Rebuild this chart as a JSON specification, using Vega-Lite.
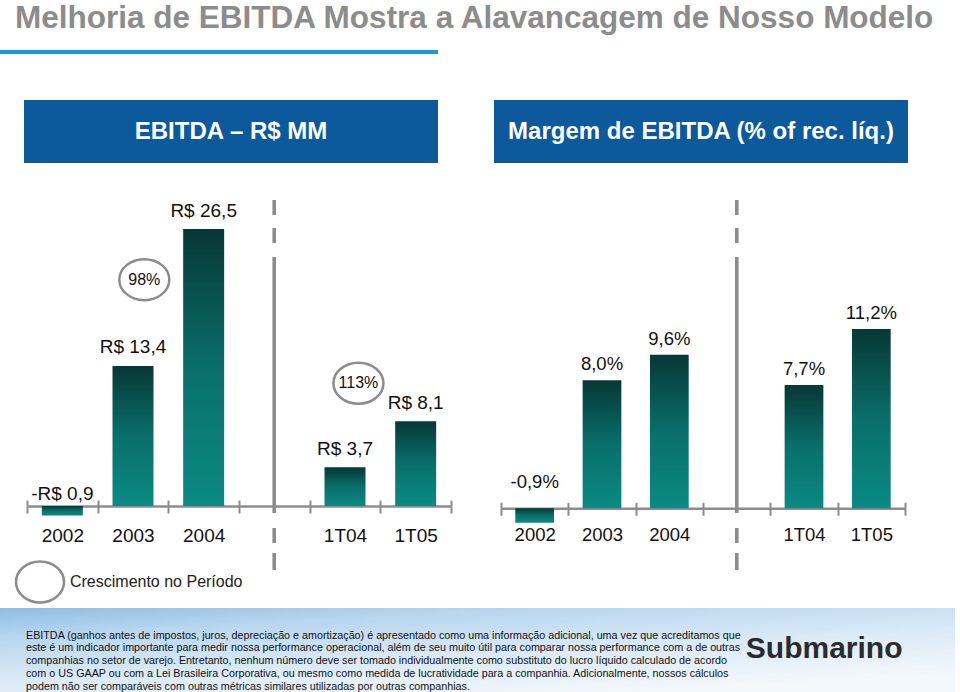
{
  "$schema": "https://vega.github.io/schema/vega-lite/v6.json",
  "padding": {"top": 2, "left": 0, "right": 0, "bottom": 0},
  "background": "white",
  "config": {"view": {"stroke": null}, "font": "Liberation Sans"},
  "datasets": {
    "ebitda": [
      {"periodo": "2002", "valor": -0.9, "rotulo": "-R$ 0,9"},
      {"periodo": "2003", "valor": 13.4, "rotulo": "R$ 13,4"},
      {"periodo": "2004", "valor": 26.5, "rotulo": "R$ 26,5"},
      {"periodo": "1T04", "valor": 3.7, "rotulo": "R$ 3,7"},
      {"periodo": "1T05", "valor": 8.1, "rotulo": "R$ 8,1"}
    ],
    "margem": [
      {"periodo": "2002", "valor": -0.9, "rotulo": "-0,9%"},
      {"periodo": "2003", "valor": 8.0, "rotulo": "8,0%"},
      {"periodo": "2004", "valor": 9.6, "rotulo": "9,6%"},
      {"periodo": "1T04", "valor": 7.7, "rotulo": "7,7%"},
      {"periodo": "1T05", "valor": 11.2, "rotulo": "11,2%"}
    ],
    "crescimento": [
      {"periodo": "2003", "taxa": "98%"},
      {"periodo": "1T04", "taxa": "113%"}
    ],
    "nota": [
      {"linha": 1, "texto": "EBITDA (ganhos antes de impostos, juros, depreciação e amortização) é apresentado como uma informação adicional, uma vez que acreditamos que"},
      {"linha": 2, "texto": "este é um indicador importante para medir nossa performance operacional, além de seu muito útil para comparar nossa performance com a de outras"},
      {"linha": 3, "texto": "companhias no setor de varejo. Entretanto, nenhum número deve ser tomado individualmente como substituto do lucro líquido calculado de acordo"},
      {"linha": 4, "texto": "com o US GAAP ou com a Lei Brasileira Corporativa, ou mesmo como medida de lucratividade para a companhia. Adicionalmente, nossos cálculos"},
      {"linha": 5, "texto": "podem não ser comparáveis com outras métricas similares utilizadas por outras companhias."}
    ]
  },
  "spacing": 46,
  "vconcat": [
    {
      "width": 438,
      "height": 4,
      "view": {"fill": "#1a9ad8", "stroke": null},
      "title": {"text": "Melhoria de EBITDA Mostra a Alavancagem de Nosso Modelo", "anchor": "start", "frame": "group", "fontSize": 31.5, "fontWeight": "bold", "color": "#8c8c8c", "font": "Liberation Sans", "offset": -9, "dx": 15, "baseline": "alphabetic"},
      "data": {"values": []},
      "mark": {"type": "point", "opacity": 0}
    },
    {
      "spacing": 0,
      "vconcat": [
        {
          "spacing": 0,
          "hconcat": [
            {"width": 24, "height": 63, "data": {"values": []}, "mark": {"type": "point", "opacity": 0}},
            {
              "spacing": 56,
              "hconcat": [
                {"width": 414, "height": 63, "view": {"fill": "#0c599b", "stroke": null}, "data": {"values": [{"t": "EBITDA – R$ MM"}]}, "mark": {"type": "text", "fontSize": 24, "fontWeight": "bold", "color": "white", "baseline": "middle"}, "encoding": {"text": {"field": "t"}}},
                {"width": 414, "height": 63, "view": {"fill": "#0c599b", "stroke": null}, "data": {"values": [{"t": "Margem de EBITDA (% of rec. líq.)"}]}, "mark": {"type": "text", "fontSize": 24, "fontWeight": "bold", "color": "white", "baseline": "middle"}, "encoding": {"text": {"field": "t"}}}
              ]
            }
          ]
        },
        {
          "spacing": 0,
          "hconcat": [
            {"width": 11, "height": 441, "data": {"values": []}, "mark": {"type": "point", "opacity": 0}},
            {
              "spacing": 48,
              "hconcat": [
                {
                  "width": 424,
                  "height": 441,
                  "data": {"name": "ebitda"},
                  "resolve": {"axis": {"x": "independent"}},
                  "layer": [
                    {
                      "mark": {"type": "bar", "width": {"band": 0.58}, "fill": {"gradient": "linear", "x1": 0, "y1": 0, "x2": 0, "y2": 1, "stops": [{"offset": 0, "color": "#073836"}, {"offset": 0.5, "color": "#0a6f6a"}, {"offset": 1, "color": "#0b8a84"}]}},
                      "encoding": {
                        "x": {"field": "periodo", "type": "nominal", "scale": {"type": "band", "domain": ["2002", "2003", "2004", " ", "1T04", "1T05"], "paddingInner": 0, "paddingOuter": 0}, "axis": {"orient": "bottom", "offset": -98, "title": null, "grid": false, "labelAngle": 0, "domainColor": "#8c8c8c", "domainWidth": 2.5, "tickColor": "#8c8c8c", "tickWidth": 2, "tickSize": 7, "tickBand": "extent", "labelFontSize": 19, "labelColor": "#111111", "labelPadding": 13.5, "labelFont": "Liberation Sans"}},
                        "y": {"field": "valor", "type": "quantitative", "scale": {"domain": [-9.378, 32.82], "nice": false, "zero": false}, "axis": null}
                      }
                    },
                    {
                      "transform": [{"filter": "datum.valor >= 0"}],
                      "mark": {"type": "text", "baseline": "alphabetic", "dy": -12.5, "fontSize": 19, "color": "#111111"},
                      "encoding": {
                        "x": {"field": "periodo", "type": "nominal", "scale": {"type": "band", "domain": ["2002", "2003", "2004", " ", "1T04", "1T05"], "paddingInner": 0, "paddingOuter": 0}, "axis": {"orient": "top", "offset": -343, "title": null, "grid": false, "domain": false, "labels": false, "tickColor": "#8c8c8c", "tickWidth": 2, "tickSize": 6, "tickBand": "extent"}},
                        "y": {"field": "valor", "type": "quantitative", "scale": {"domain": [-9.378, 32.82], "nice": false, "zero": false}, "axis": null},
                        "text": {"field": "rotulo"}
                      }
                    },
                    {
                      "transform": [{"filter": "datum.valor < 0"}],
                      "mark": {"type": "text", "baseline": "alphabetic", "dy": -6, "fontSize": 19, "color": "#111111"},
                      "encoding": {
                        "x": {"field": "periodo", "type": "nominal", "scale": {"type": "band", "domain": ["2002", "2003", "2004", " ", "1T04", "1T05"], "paddingInner": 0, "paddingOuter": 0}, "axis": null},
                        "y": {"datum": 0, "type": "quantitative", "scale": {"domain": [-9.378, 32.82], "nice": false, "zero": false}, "axis": null},
                        "text": {"field": "rotulo"}
                      }
                    },
                    {
                      "mark": {"type": "rule", "color": "#8c8c8c", "strokeWidth": 3, "strokeDash": [15, 13, 15, 14, 256, 15, 15, 10, 17]},
                      "encoding": {
                        "x": {"datum": " ", "type": "nominal", "bandPosition": 0.5, "scale": {"type": "band", "domain": ["2002", "2003", "2004", " ", "1T04", "1T05"], "paddingInner": 0, "paddingOuter": 0}, "axis": null},
                        "y": {"datum": 29.28, "type": "quantitative", "scale": {"domain": [-9.378, 32.82], "nice": false, "zero": false}, "axis": null},
                        "y2": {"datum": -6.124}
                      }
                    },
                    {
                      "data": {"name": "crescimento"},
                      "transform": [{"filter": "datum.periodo == '2003'"}],
                      "mark": {"type": "point", "shape": "M -1 0 A 1 0.82 0 1 1 1 0 A 1 0.82 0 1 1 -1 0 Z", "size": 2500, "filled": false, "color": "#8c8c8c", "strokeWidth": 2.5, "opacity": 1},
                      "encoding": {
                        "x": {"field": "periodo", "type": "nominal", "bandPosition": 0.66, "scale": {"type": "band", "domain": ["2002", "2003", "2004", " ", "1T04", "1T05"], "paddingInner": 0, "paddingOuter": 0}, "axis": null},
                        "y": {"datum": 21.66, "type": "quantitative", "scale": {"domain": [-9.378, 32.82], "nice": false, "zero": false}, "axis": null}
                      }
                    },
                    {
                      "data": {"name": "crescimento"},
                      "transform": [{"filter": "datum.periodo == '2003'"}],
                      "mark": {"type": "text", "fontSize": 16, "color": "#111111", "baseline": "middle"},
                      "encoding": {
                        "x": {"field": "periodo", "type": "nominal", "bandPosition": 0.66, "scale": {"type": "band", "domain": ["2002", "2003", "2004", " ", "1T04", "1T05"], "paddingInner": 0, "paddingOuter": 0}, "axis": null},
                        "y": {"datum": 21.66, "type": "quantitative", "scale": {"domain": [-9.378, 32.82], "nice": false, "zero": false}, "axis": null},
                        "text": {"field": "taxa"}
                      }
                    },
                    {
                      "data": {"name": "crescimento"},
                      "transform": [{"filter": "datum.periodo == '1T04'"}],
                      "mark": {"type": "point", "shape": "M -1 0 A 1 0.82 0 1 1 1 0 A 1 0.82 0 1 1 -1 0 Z", "size": 2500, "filled": false, "color": "#8c8c8c", "strokeWidth": 2.5, "opacity": 1},
                      "encoding": {
                        "x": {"field": "periodo", "type": "nominal", "bandPosition": 0.69, "scale": {"type": "band", "domain": ["2002", "2003", "2004", " ", "1T04", "1T05"], "paddingInner": 0, "paddingOuter": 0}, "axis": null},
                        "y": {"datum": 11.74, "type": "quantitative", "scale": {"domain": [-9.378, 32.82], "nice": false, "zero": false}, "axis": null}
                      }
                    },
                    {
                      "data": {"name": "crescimento"},
                      "transform": [{"filter": "datum.periodo == '1T04'"}],
                      "mark": {"type": "text", "fontSize": 16, "color": "#111111", "baseline": "middle"},
                      "encoding": {
                        "x": {"field": "periodo", "type": "nominal", "bandPosition": 0.69, "scale": {"type": "band", "domain": ["2002", "2003", "2004", " ", "1T04", "1T05"], "paddingInner": 0, "paddingOuter": 0}, "axis": null},
                        "y": {"datum": 11.74, "type": "quantitative", "scale": {"domain": [-9.378, 32.82], "nice": false, "zero": false}, "axis": null},
                        "text": {"field": "taxa"}
                      }
                    },
                    {
                      "data": {"values": [{"chave": "Crescimento no Período"}]},
                      "mark": {"type": "point", "shape": "M -1 0 A 1 0.854 0 1 1 1 0 A 1 0.854 0 1 1 -1 0 Z", "size": 2304, "filled": false, "color": "#8c8c8c", "strokeWidth": 2.5, "opacity": 1},
                      "encoding": {
                        "x": {"datum": "2002", "type": "nominal", "bandPosition": 0.184, "scale": {"type": "band", "domain": ["2002", "2003", "2004", " ", "1T04", "1T05"], "paddingInner": 0, "paddingOuter": 0}, "axis": null},
                        "y": {"datum": -7.27, "type": "quantitative", "scale": {"domain": [-9.378, 32.82], "nice": false, "zero": false}, "axis": null}
                      }
                    },
                    {
                      "data": {"values": [{"chave": "Crescimento no Período"}]},
                      "mark": {"type": "text", "fontSize": 16, "color": "#222222", "baseline": "middle", "align": "left"},
                      "encoding": {
                        "x": {"datum": "2002", "type": "nominal", "bandPosition": 0.608, "scale": {"type": "band", "domain": ["2002", "2003", "2004", " ", "1T04", "1T05"], "paddingInner": 0, "paddingOuter": 0}, "axis": null},
                        "y": {"datum": -7.27, "type": "quantitative", "scale": {"domain": [-9.378, 32.82], "nice": false, "zero": false}, "axis": null},
                        "text": {"field": "chave"}
                      }
                    }
                  ]
                },
                {
                  "width": 404,
                  "height": 441,
                  "data": {"name": "margem"},
                  "resolve": {"axis": {"x": "independent"}},
                  "layer": [
                    {
                      "mark": {"type": "bar", "width": {"band": 0.575}, "fill": {"gradient": "linear", "x1": 0, "y1": 0, "x2": 0, "y2": 1, "stops": [{"offset": 0, "color": "#073836"}, {"offset": 0.5, "color": "#0a6f6a"}, {"offset": 1, "color": "#0b8a84"}]}},
                      "encoding": {
                        "x": {"field": "periodo", "type": "nominal", "scale": {"type": "band", "domain": ["2002", "2003", "2004", " ", "1T04", "1T05"], "paddingInner": 0, "paddingOuter": 0}, "axis": {"orient": "bottom", "offset": -95.7, "title": null, "grid": false, "labelAngle": 0, "domainColor": "#8c8c8c", "domainWidth": 2.5, "tickColor": "#8c8c8c", "tickWidth": 2, "tickSize": 7, "tickBand": "extent", "labelFontSize": 18.5, "labelColor": "#111111", "labelPadding": 10, "labelFont": "Liberation Sans"}},
                        "y": {"field": "valor", "type": "quantitative", "scale": {"domain": [-5.981, 21.58], "nice": false, "zero": false}, "axis": null}
                      }
                    },
                    {
                      "transform": [{"filter": "datum.valor >= 0"}],
                      "mark": {"type": "text", "baseline": "alphabetic", "dy": -10, "fontSize": 18.5, "color": "#111111"},
                      "encoding": {
                        "x": {"field": "periodo", "type": "nominal", "scale": {"type": "band", "domain": ["2002", "2003", "2004", " ", "1T04", "1T05"], "paddingInner": 0, "paddingOuter": 0}, "axis": {"orient": "top", "offset": -345.3, "title": null, "grid": false, "domain": false, "labels": false, "tickColor": "#8c8c8c", "tickWidth": 2, "tickSize": 6, "tickBand": "extent"}},
                        "y": {"field": "valor", "type": "quantitative", "scale": {"domain": [-5.981, 21.58], "nice": false, "zero": false}, "axis": null},
                        "text": {"field": "rotulo"}
                      }
                    },
                    {
                      "transform": [{"filter": "datum.valor < 0"}],
                      "mark": {"type": "text", "baseline": "alphabetic", "dy": -20, "fontSize": 18.5, "color": "#111111"},
                      "encoding": {
                        "x": {"field": "periodo", "type": "nominal", "scale": {"type": "band", "domain": ["2002", "2003", "2004", " ", "1T04", "1T05"], "paddingInner": 0, "paddingOuter": 0}, "axis": null},
                        "y": {"datum": 0, "type": "quantitative", "scale": {"domain": [-5.981, 21.58], "nice": false, "zero": false}, "axis": null},
                        "text": {"field": "rotulo"}
                      }
                    },
                    {
                      "mark": {"type": "rule", "color": "#8c8c8c", "strokeWidth": 3, "strokeDash": [15, 13, 15, 14, 256, 15, 15, 10, 17]},
                      "encoding": {
                        "x": {"datum": " ", "type": "nominal", "bandPosition": 0.5, "scale": {"type": "band", "domain": ["2002", "2003", "2004", " ", "1T04", "1T05"], "paddingInner": 0, "paddingOuter": 0}, "axis": null},
                        "y": {"datum": 19.27, "type": "quantitative", "scale": {"domain": [-5.981, 21.58], "nice": false, "zero": false}, "axis": null},
                        "y2": {"datum": -3.856}
                      }
                    }
                  ]
                }
              ]
            }
          ]
        },
        {
          "width": 955,
          "height": 88,
          "layer": [
            {
              "data": {"values": [{}]},
              "mark": {"type": "rect", "fill": {"gradient": "linear", "x1": 0, "y1": 0, "x2": 0.6, "y2": 1, "stops": [{"offset": 0, "color": "#8dbde3"}, {"offset": 0.25, "color": "#b8d6ee"}, {"offset": 0.6, "color": "#d9e9f6"}, {"offset": 1, "color": "#f3f8fc"}]}},
              "encoding": {
                "x": {"datum": 0, "type": "quantitative", "scale": {"domain": [0, 1], "nice": false, "zero": false}, "axis": null},
                "x2": {"datum": 1},
                "y": {"datum": -1.1725, "type": "quantitative", "scale": {"domain": [-1.1725, 5.7295], "nice": false, "zero": false, "reverse": true}, "axis": null},
                "y2": {"datum": 5.7295}
              }
            },
            {
              "data": {"name": "nota"},
              "mark": {"type": "text", "align": "left", "baseline": "middle", "fontSize": 10.75, "color": "#111111"},
              "encoding": {
                "x": {"datum": 0.0272, "type": "quantitative", "scale": {"domain": [0, 1], "nice": false, "zero": false}, "axis": null},
                "y": {"field": "linha", "type": "quantitative", "scale": {"domain": [-1.1725, 5.7295], "nice": false, "zero": false, "reverse": true}, "axis": null},
                "text": {"field": "texto"}
              }
            },
            {
              "data": {"values": [{"marca": "Submarino"}]},
              "mark": {"type": "text", "align": "center", "baseline": "middle", "fontSize": 30, "fontWeight": "bold", "color": "#2b2b2b"},
              "encoding": {
                "x": {"datum": 0.863, "type": "quantitative", "scale": {"domain": [0, 1], "nice": false, "zero": false}, "axis": null},
                "y": {"datum": 2.043, "type": "quantitative", "scale": {"domain": [-1.1725, 5.7295], "nice": false, "zero": false, "reverse": true}, "axis": null},
                "text": {"field": "marca"}
              }
            }
          ]
        }
      ]
    }
  ]
}
